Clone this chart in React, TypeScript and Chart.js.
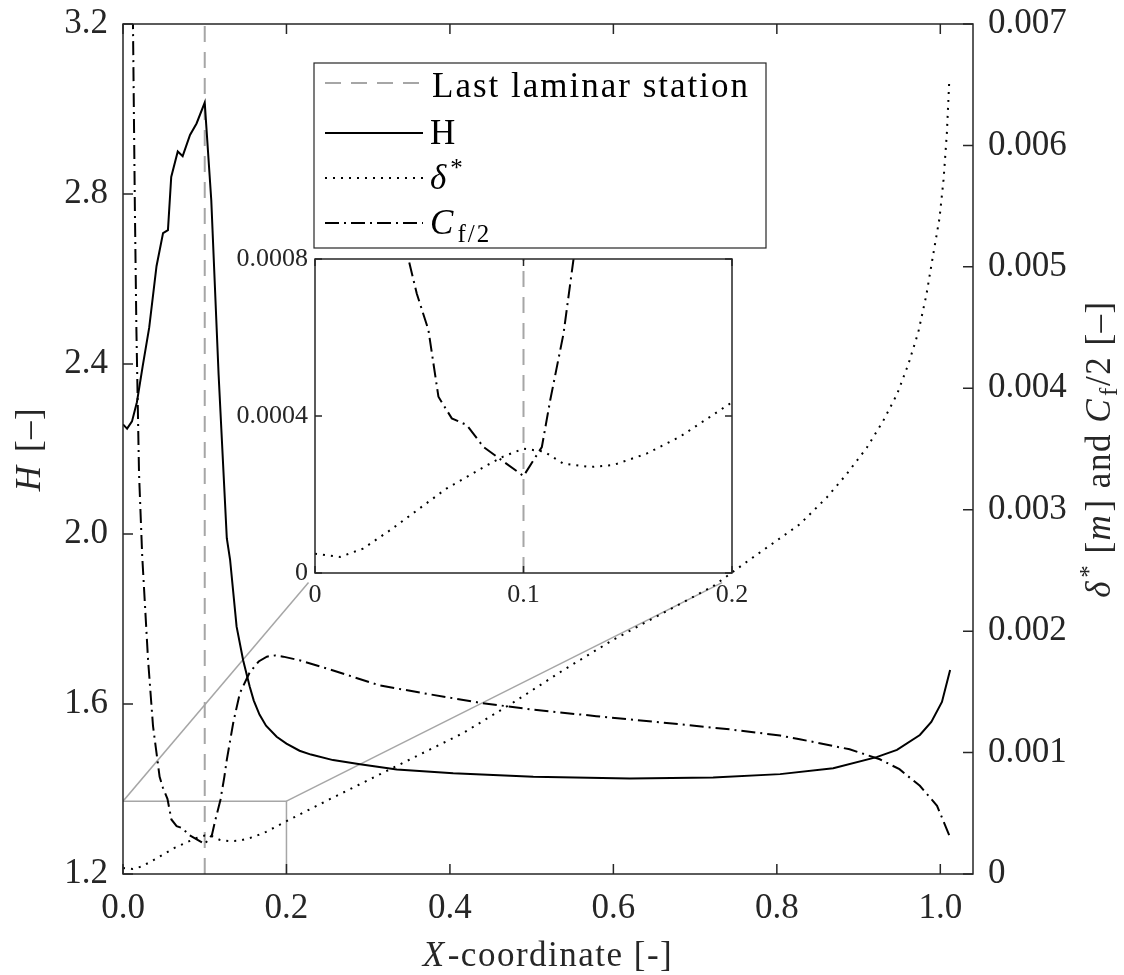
import React, { useEffect, useRef } from 'react';
import { Chart, registerables } from 'chart.js';
Chart.register(...registerables);

const FONT = '"Liberation Serif", "Times New Roman", serif';
const INK = '#262626';
const GRAY = '#a6a6a6';

// ---- H (shape factor), left axis
const hX = [0.000,0.005,0.011,0.017,0.024,0.032,0.041,0.049,0.055,0.059,0.067,0.073,0.082,0.090,0.100,0.108,0.117,0.127,0.131,0.139,0.147,0.155,0.160,0.167,0.175,0.188,0.200,0.216,0.230,0.257,0.290,0.335,0.404,0.502,0.620,0.722,0.804,0.869,0.922,0.947,0.975,0.989,1.002,1.012];
const hY = [2.258,2.248,2.265,2.310,2.394,2.485,2.630,2.708,2.715,2.840,2.900,2.889,2.939,2.966,3.015,2.786,2.374,1.990,1.940,1.782,1.703,1.641,1.608,1.575,1.549,1.523,1.507,1.490,1.481,1.468,1.458,1.446,1.437,1.429,1.425,1.427,1.435,1.449,1.475,1.492,1.527,1.558,1.605,1.680];

// ---- delta* (displacement thickness), right axis
const dX = [0.000,0.012,0.023,0.036,0.049,0.063,0.081,0.090,0.100,0.110,0.119,0.132,0.143,0.159,0.175,0.198,0.253,0.335,0.416,0.477,0.539,0.600,0.661,0.722,0.765,0.828,0.861,0.885,0.910,0.930,0.947,0.961,0.973,0.983,0.991,0.999,1.004,1.008,1.011];
const dY = [0.000049,0.000041,0.000062,0.000109,0.000160,0.000215,0.000270,0.000296,0.000317,0.000309,0.000279,0.000270,0.000275,0.000304,0.000347,0.000428,0.000616,0.000890,0.001160,0.001410,0.001680,0.001930,0.002150,0.002370,0.002580,0.002880,0.003100,0.003290,0.003510,0.003730,0.003950,0.004200,0.004460,0.004770,0.005090,0.005400,0.005720,0.006100,0.006540];

// ---- Cf/2 (skin friction), right axis
const cX = [0.008,0.0122,0.0145,0.0164,0.0196,0.0235,0.0306,0.0367,0.0448,0.0488,0.0544,0.0592,0.0656,0.0728,0.0808,0.100,0.1088,0.1128,0.1192,0.124,0.127,0.135,0.143,0.155,0.166,0.176,0.186,0.196,0.216,0.253,0.314,0.375,0.437,0.498,0.579,0.661,0.743,0.804,0.828,0.889,0.926,0.950,0.975,0.996,1.012];
const cY = [0.0090,0.0070,0.0055,0.00448,0.0033,0.00262,0.00177,0.00122,0.00080,0.000712,0.000619,0.000449,0.000394,0.000377,0.000321,0.000247,0.000321,0.000440,0.000610,0.000800,0.00094,0.00125,0.00149,0.00166,0.00175,0.00179,0.00180,0.00179,0.00176,0.001685,0.001553,0.00148,0.00141,0.001356,0.00130,0.001247,0.001191,0.00114,0.00111,0.001027,0.000945,0.000863,0.000726,0.000562,0.000302];

// ---- last laminar station
const lastLaminarX = 0.1;

// ---- zoom rectangle and connector ends (data units of x / right axis)
const zoomBoxX = [0, 0.2];
const zoomBoxY = [0, 0.0006];
const connectorEndX = [0.227, 0.733];
const connectorEndY = 0.0024;

// ---- ticks
const xTicks = [0, 0.2, 0.4, 0.6, 0.8, 1.0];
const xTickLabels = ['0.0', '0.2', '0.4', '0.6', '0.8', '1.0'];
const hTicks = [1.2, 1.6, 2.0, 2.4, 2.8, 3.2];
const hTickLabels = ['1.2', '1.6', '2.0', '2.4', '2.8', '3.2'];
const rTicks = [0, 0.001, 0.002, 0.003, 0.004, 0.005, 0.006, 0.007];
const rTickLabels = ['0', '0.001', '0.002', '0.003', '0.004', '0.005', '0.006', '0.007'];
const insetXTicks = [0, 0.1, 0.2];
const insetXTickLabels = ['0', '0.1', '0.2'];
const insetYTicks = [0, 0.0004, 0.0008];
const insetYTickLabels = ['0', '0.0004', '0.0008'];

const legendLabels = ['Last laminar station', 'H', 'δ', 'C'];

const pts = (xs: number[], ys: number[]) => xs.map((x, i) => ({ x, y: ys[i] }));

type Part = { t: string; it?: boolean; s?: number; dy?: number };
function fontOf(p: Part, size: number) {
  return `${p.it ? 'italic ' : ''}${Math.round(size * (p.s || 1))}px ${FONT}`;
}
function drawRich(ctx: CanvasRenderingContext2D, parts: Part[], x: number, y: number, size: number, align: 'left' | 'center') {
  let w = 0;
  const ws: number[] = [];
  for (const p of parts) {
    ctx.font = fontOf(p, size);
    const m = ctx.measureText(p.t).width + (p.it ? size * 0.06 : 0);
    ws.push(m);
    w += m;
  }
  let cx = align === 'center' ? x - w / 2 : x;
  ctx.textAlign = 'left';
  ctx.textBaseline = 'alphabetic';
  parts.forEach((p, i) => {
    ctx.font = fontOf(p, size);
    ctx.fillText(p.t, cx, y + (p.dy || 0));
    cx += ws[i];
  });
}

const DASH_GRAY = [16, 10];
const DOT = [2, 6];
const DASH_DOT = [14, 5, 2, 5];

const mainDecor = {
  id: 'mainDecor',
  afterDraw(chart: any) {
    const { ctx, chartArea: a, scales } = chart;
    ctx.save();
    // box
    ctx.strokeStyle = INK;
    ctx.lineWidth = 1.5;
    ctx.setLineDash([]);
    ctx.strokeRect(a.left, a.top, a.right - a.left, a.bottom - a.top);
    const TL = 10;
    ctx.beginPath();
    for (const v of xTicks) {
      const px = scales.x.getPixelForValue(v);
      ctx.moveTo(px, a.bottom); ctx.lineTo(px, a.bottom - TL);
      ctx.moveTo(px, a.top); ctx.lineTo(px, a.top + TL);
    }
    for (const v of hTicks) {
      const py = scales.y.getPixelForValue(v);
      ctx.moveTo(a.left, py); ctx.lineTo(a.left + TL, py);
    }
    for (const v of rTicks) {
      const py = scales.y2.getPixelForValue(v);
      ctx.moveTo(a.right, py); ctx.lineTo(a.right - TL, py);
    }
    ctx.stroke();

    try { (ctx as any).letterSpacing = '2px'; } catch (e) {}

    // legend box
    const L = { x: 314, y: 63, w: 452, h: 185 };
    ctx.fillStyle = '#ffffff';
    ctx.fillRect(L.x, L.y, L.w, L.h);
    ctx.strokeStyle = INK;
    ctx.lineWidth = 1.2;
    ctx.strokeRect(L.x, L.y, L.w, L.h);
    const rows = [83, 133, 178, 223];
    const styles = [
      { c: GRAY, d: DASH_GRAY },
      { c: '#000', d: [] as number[] },
      { c: '#000', d: DOT },
      { c: '#000', d: DASH_DOT },
    ];
    rows.forEach((ry, i) => {
      ctx.beginPath();
      ctx.strokeStyle = styles[i].c;
      ctx.lineWidth = 2;
      ctx.setLineDash(styles[i].d);
      ctx.moveTo(325, ry);
      ctx.lineTo(423, ry);
      ctx.stroke();
    });
    ctx.setLineDash([]);
    ctx.fillStyle = '#000';
    const S = 35;
    drawRich(ctx, [{ t: legendLabels[0] }], 432, rows[0] + 14, S, 'left');
    drawRich(ctx, [{ t: legendLabels[1] }], 430, rows[1] + 11, S, 'left');
    drawRich(ctx, [{ t: legendLabels[2], it: true }, { t: '*', s: 0.72, dy: -13 }], 430, rows[2] + 11, S, 'left');
    drawRich(ctx, [{ t: legendLabels[3], it: true }, { t: 'f/2', s: 0.72, dy: 8 }], 430, rows[3] + 11, S, 'left');

    // axis titles
    try { (ctx as any).letterSpacing = '1.5px'; } catch (e) {}
    ctx.fillStyle = INK;
    drawRich(ctx, [{ t: 'X', it: true }, { t: '-coordinate [-]' }], (a.left + a.right) / 2, 966, S, 'center');
    const cy = (a.top + a.bottom) / 2;
    ctx.save();
    ctx.translate(40, cy);
    ctx.rotate(-Math.PI / 2);
    drawRich(ctx, [{ t: 'H', it: true }, { t: ' [–]' }], 0, 0, S, 'center');
    ctx.restore();
    ctx.save();
    ctx.translate(1110, cy);
    ctx.rotate(-Math.PI / 2);
    drawRich(ctx, [
      { t: 'δ', it: true }, { t: '*', s: 0.72, dy: -13 }, { t: ' [' }, { t: 'm', it: true }, { t: '] and ' },
      { t: 'C', it: true }, { t: 'f', s: 0.72, dy: 7 }, { t: '/2 [–]' },
    ], 0, 0, S, 'center');
    ctx.restore();
    ctx.restore();
  },
};

const insetDecor = {
  id: 'insetDecor',
  beforeDraw(chart: any) {
    const { ctx, chartArea: a } = chart;
    ctx.save();
    ctx.fillStyle = '#ffffff';
    ctx.fillRect(a.left, a.top, a.right - a.left, a.bottom - a.top);
    ctx.restore();
  },
  afterDraw(chart: any) {
    const { ctx, chartArea: a, scales } = chart;
    ctx.save();
    ctx.strokeStyle = INK;
    ctx.lineWidth = 1.5;
    ctx.setLineDash([]);
    ctx.strokeRect(a.left, a.top, a.right - a.left, a.bottom - a.top);
    const TL = 7;
    ctx.beginPath();
    for (const v of insetXTicks) {
      const px = scales.x.getPixelForValue(v);
      ctx.moveTo(px, a.bottom); ctx.lineTo(px, a.bottom - TL);
      ctx.moveTo(px, a.top); ctx.lineTo(px, a.top + TL);
    }
    for (const v of insetYTicks) {
      const py = scales.y.getPixelForValue(v);
      ctx.moveTo(a.left, py); ctx.lineTo(a.left + TL, py);
      ctx.moveTo(a.right, py); ctx.lineTo(a.right - TL, py);
    }
    ctx.stroke();
    ctx.restore();
  },
};

function fixedTicks(values: number[]) {
  return (scale: any) => { scale.ticks = values.map((v) => ({ value: v })); };
}
function fitV(width: number) {
  return (s: any) => { s.width = width; s.paddingTop = 0; s.paddingBottom = 0; };
}
function fitH(height: number) {
  return (s: any) => { s.height = height; s.paddingLeft = 0; s.paddingRight = 0; };
}

const noGrid = { display: false, drawTicks: false, tickLength: 0 };

export default function App() {
  const mainRef = useRef<HTMLCanvasElement>(null);
  const insetRef = useRef<HTMLCanvasElement>(null);

  useEffect(() => {
    Chart.defaults.font.family = FONT;
    const tickFont = { family: FONT, size: 35 };
    const lineBase = { pointRadius: 0, borderWidth: 2, tension: 0, fill: false };

    const main = new Chart(mainRef.current as HTMLCanvasElement, {
      type: 'line',
      data: {
        datasets: [
          { ...lineBase, label: 'H', data: pts(hX, hY), yAxisID: 'y', borderColor: '#000' },
          { ...lineBase, label: 'delta', data: pts(dX, dY), yAxisID: 'y2', borderColor: '#000', borderDash: DOT },
          { ...lineBase, label: 'cf', data: pts(cX, cY), yAxisID: 'y2', borderColor: '#000', borderDash: DASH_DOT },
          { ...lineBase, label: 'last', data: [{ x: lastLaminarX, y: rTicks[0] }, { x: lastLaminarX, y: rTicks[rTicks.length - 1] }], yAxisID: 'y2', borderColor: GRAY, borderDash: DASH_GRAY },
          { ...lineBase, label: 'box', data: [{ x: zoomBoxX[0], y: zoomBoxY[1] }, { x: zoomBoxX[1], y: zoomBoxY[1] }, { x: zoomBoxX[1], y: zoomBoxY[0] }], yAxisID: 'y2', borderColor: GRAY, borderWidth: 1.5 },
          { ...lineBase, label: 'c1', data: [{ x: zoomBoxX[0], y: zoomBoxY[1] }, { x: connectorEndX[0], y: connectorEndY }], yAxisID: 'y2', borderColor: GRAY, borderWidth: 1.5 },
          { ...lineBase, label: 'c2', data: [{ x: zoomBoxX[1], y: zoomBoxY[1] }, { x: connectorEndX[1], y: connectorEndY }], yAxisID: 'y2', borderColor: GRAY, borderWidth: 1.5 },
        ],
      },
      options: {
        responsive: false,
        animation: false,
        events: [],
        layout: { padding: { top: 24, left: 0, right: 0, bottom: 0 } },
        plugins: { legend: { display: false }, tooltip: { enabled: false } },
        scales: {
          x: {
            type: 'linear', min: 0, max: 1.04,
            afterBuildTicks: fixedTicks(xTicks),
            afterFit: fitH(101),
            ticks: { font: tickFont, color: INK, padding: 14, maxRotation: 0, autoSkip: false, callback: (_v: any, i: number) => xTickLabels[i] },
            grid: noGrid, border: { display: false },
          },
          y: {
            type: 'linear', position: 'left', min: 1.2, max: 3.2,
            afterBuildTicks: fixedTicks(hTicks),
            afterFit: fitV(123),
            ticks: { font: tickFont, color: INK, padding: 15, autoSkip: false, callback: (_v: any, i: number) => hTickLabels[i] },
            grid: noGrid, border: { display: false },
          },
          y2: {
            type: 'linear', position: 'right', min: 0, max: 0.007,
            afterBuildTicks: fixedTicks(rTicks),
            afterFit: fitV(151),
            ticks: { font: tickFont, color: INK, padding: 15, autoSkip: false, callback: (_v: any, i: number) => rTickLabels[i] },
            grid: noGrid, border: { display: false },
          },
        },
      } as any,
      plugins: [mainDecor],
    });

    const insetFont = { family: FONT, size: 26 };
    const inset = new Chart(insetRef.current as HTMLCanvasElement, {
      type: 'line',
      data: {
        datasets: [
          { ...lineBase, label: 'delta', data: pts(dX, dY), borderColor: '#000', borderDash: DOT },
          { ...lineBase, label: 'cf', data: pts(cX, cY), borderColor: '#000', borderDash: DASH_DOT },
          { ...lineBase, label: 'last', data: [{ x: lastLaminarX, y: insetYTicks[0] }, { x: lastLaminarX, y: insetYTicks[insetYTicks.length - 1] }], borderColor: GRAY, borderDash: DASH_GRAY },
        ],
      },
      options: {
        responsive: false,
        animation: false,
        events: [],
        layout: { padding: { top: 19, left: 0, right: 18, bottom: 0 } },
        plugins: { legend: { display: false }, tooltip: { enabled: false } },
        scales: {
          x: {
            type: 'linear', min: 0, max: 0.2,
            afterBuildTicks: fixedTicks(insetXTicks),
            afterFit: fitH(37),
            ticks: { font: insetFont, color: INK, padding: 7, maxRotation: 0, autoSkip: false, callback: (_v: any, i: number) => insetXTickLabels[i] },
            grid: noGrid, border: { display: false },
          },
          y: {
            type: 'linear', position: 'left', min: 0, max: 0.0008,
            afterBuildTicks: fixedTicks(insetYTicks),
            afterFit: fitV(95),
            ticks: { font: insetFont, color: INK, padding: 7, autoSkip: false, callback: (_v: any, i: number) => insetYTickLabels[i] },
            grid: noGrid, border: { display: false },
          },
        },
      } as any,
      plugins: [insetDecor],
    });

    return () => { main.destroy(); inset.destroy(); };
  }, []);

  return (
    <div style={{ position: 'absolute', left: 0, top: 0, width: 1124, height: 975, background: '#ffffff' }}>
      <canvas ref={mainRef} width={1124} height={975} style={{ position: 'absolute', left: 0, top: 0 }} />
      <canvas ref={insetRef} width={530} height={370} style={{ position: 'absolute', left: 220, top: 240 }} />
    </div>
  );
}
